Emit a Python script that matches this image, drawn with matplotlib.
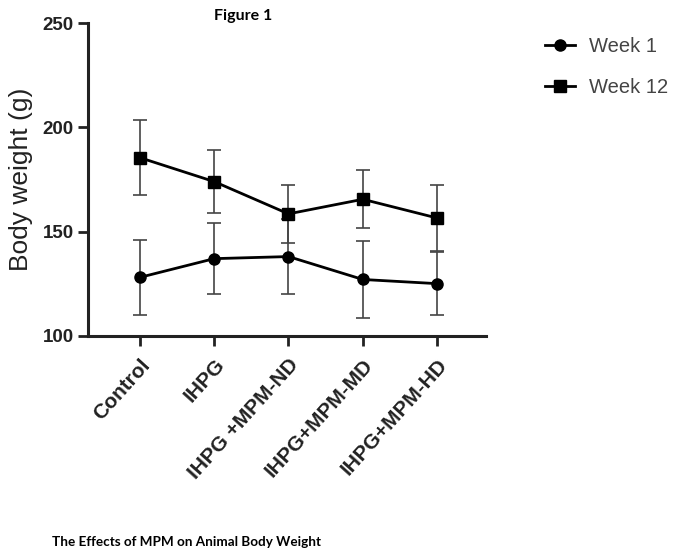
import matplotlib.pyplot as plt
from matplotlib.lines import Line2D
import numpy as np

groups = ['Control', 'IHPG', 'IHPG +MPM-ND', 'IHPG+MPM-MD', 'IHPG+MPM-HD']
week1_mean = [128, 137, 138, 127, 125]
week1_err = [18, 17, 18, 18.5, 15]
week12_mean = [185.5, 174, 158.5, 165.5, 156.5]
week12_err = [18, 15, 14, 14, 16]
y_ticks = [100, 150, 200, 250]

plt.rcParams['font.family'] = ['Liberation Sans', 'DejaVu Sans']

fig = plt.figure(figsize=(6.8, 5.54), dpi=100)
ax = fig.add_axes([0.129, 0.394, 0.585, 0.564])

x = np.arange(len(groups))
ax.errorbar(x, week1_mean, yerr=week1_err, color='black', marker='o', markersize=8,
            linewidth=2, ecolor='#444444', elinewidth=1.2, capsize=5, capthick=1.2)
ax.errorbar(x, week12_mean, yerr=week12_err, color='black', marker='s', markersize=8,
            linewidth=2, ecolor='#444444', elinewidth=1.2, capsize=5, capthick=1.2)

ax.set_xlim(-0.7, 4.65)
ax.set_ylim(100, 250)
ax.set_yticks(y_ticks)
ax.set_xticks(x)
ax.set_xticklabels(groups, rotation=48, ha='right', rotation_mode='anchor',
                   fontsize=15, fontweight='bold', color='#222222')
for lab in ax.get_yticklabels():
    lab.set_fontsize(13.5)
    lab.set_fontweight('bold')
    lab.set_color('#222222')

for side in ['top', 'right']:
    ax.spines[side].set_visible(False)
for side in ['left', 'bottom']:
    ax.spines[side].set_linewidth(2.2)
    ax.spines[side].set_color('#222222')
ax.tick_params(axis='both', direction='out', length=7, width=2, color='#222222', pad=3)
ax.tick_params(axis='x', pad=7)

ax.set_ylabel('Body weight (g)', fontsize=19, color='#222222', labelpad=7)

handles = [Line2D([], [], color='black', marker='o', markersize=8, linewidth=2),
           Line2D([], [], color='black', marker='s', markersize=8, linewidth=2)]
ax.legend(handles, ['Week 1', 'Week 12'], loc='upper left', bbox_to_anchor=(1.105, 1.015),
          frameon=False, fontsize=14.5, labelcolor='#444444', handlelength=1.45,
          handletextpad=0.7, labelspacing=1.1)

fig.text(0.357, 0.972, 'Figure 1', fontsize=11.5, fontweight='bold', family='Lato',
         ha='center', va='center')
fig.text(0.076, 0.021, 'The Effects of MPM on Animal Body Weight', fontsize=9.7,
         fontweight='bold', family='Lato', ha='left', va='center')

fig.savefig('out.png', dpi=100)
